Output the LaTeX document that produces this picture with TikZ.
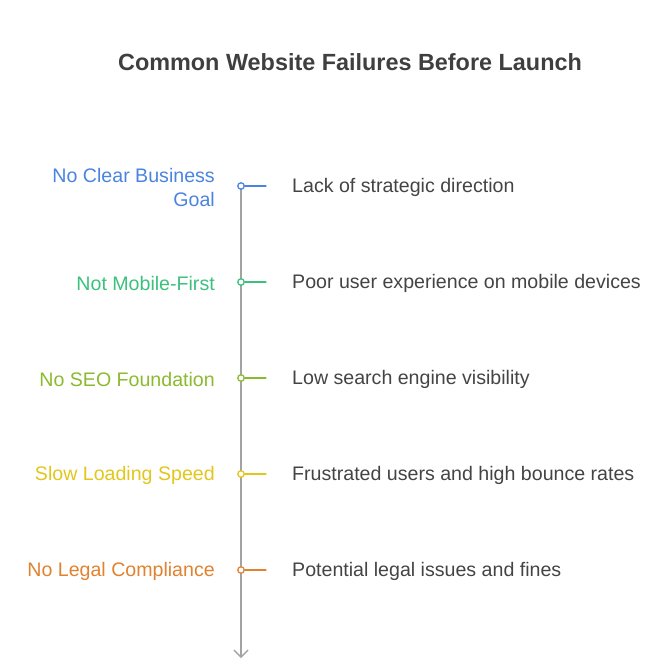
\documentclass[tikz,border=0pt]{standalone}
\usepackage{fontspec}
\setmainfont{Liberation Sans}
\usetikzlibrary{arrows.meta}
\definecolor{titlegray}{HTML}{3F3F3F}
\definecolor{textgray}{HTML}{444444}
\definecolor{spinegray}{HTML}{A3A3A3}
\definecolor{goalblue}{HTML}{4A84E0}
\definecolor{mobilegreen}{HTML}{3CC07E}
\definecolor{seoolive}{HTML}{8CBA2E}
\definecolor{speedyellow}{HTML}{E2C61C}
\definecolor{legalorange}{HTML}{E0822F}
\tikzset{
  label/.style={font=\fontsize{19.6}{24}\selectfont, inner sep=0pt},
  dot/.style={circle, line width=1.3pt, minimum size=6.5pt, inner sep=0pt},
  branch/.style={line width=1.3pt},
}
\begin{document}
\begin{tikzpicture}[x=1pt,y=-1pt, line join=round, line cap=round, >={Straight Barb[length=7pt,width=14pt]}]
\def \xspine{241};
\def \ytop{186};
\def \ygap{96};
\useasboundingbox (0,0) rectangle (671,665);
\node[font=\bfseries\fontsize{23.4}{28}\selectfont, text=titlegray] (title) at (350,62) {Common Website Failures Before Launch};
\coordinate (spinetop) at (\xspine,\ytop);
\coordinate (spineend) at (\xspine,658);
\draw[->, spinegray, line width=1.3pt] (spinetop) -- (spineend);
\foreach \i/\l/\r/\c in {0/{No Clear Business\\Goal}/Lack of strategic direction/goalblue,
  1/Not Mobile-First/Poor user experience on mobile devices/mobilegreen,
  2/No SEO Foundation/Low search engine visibility/seoolive,
  3/Slow Loading Speed/Frustrated users and high bounce rates/speedyellow,
  4/No Legal Compliance/Potential legal issues and fines/legalorange}{
  \node[dot, draw=\c, fill=white] (dot\i) at (\xspine,\ytop+\i*\ygap) {};
  \coordinate (tip\i) at (266,\ytop+\i*\ygap);
  \draw[branch, \c] (dot\i) -- (tip\i);
  \node[label, text=\c, anchor=east, align=right] (fail\i) at (215,\ytop+\i*\ygap+1) {\l};
  \node[label, text=textgray, anchor=west] (effect\i) at (292,\ytop+\i*\ygap+1) {\r};
}
\end{tikzpicture}
\end{document}
